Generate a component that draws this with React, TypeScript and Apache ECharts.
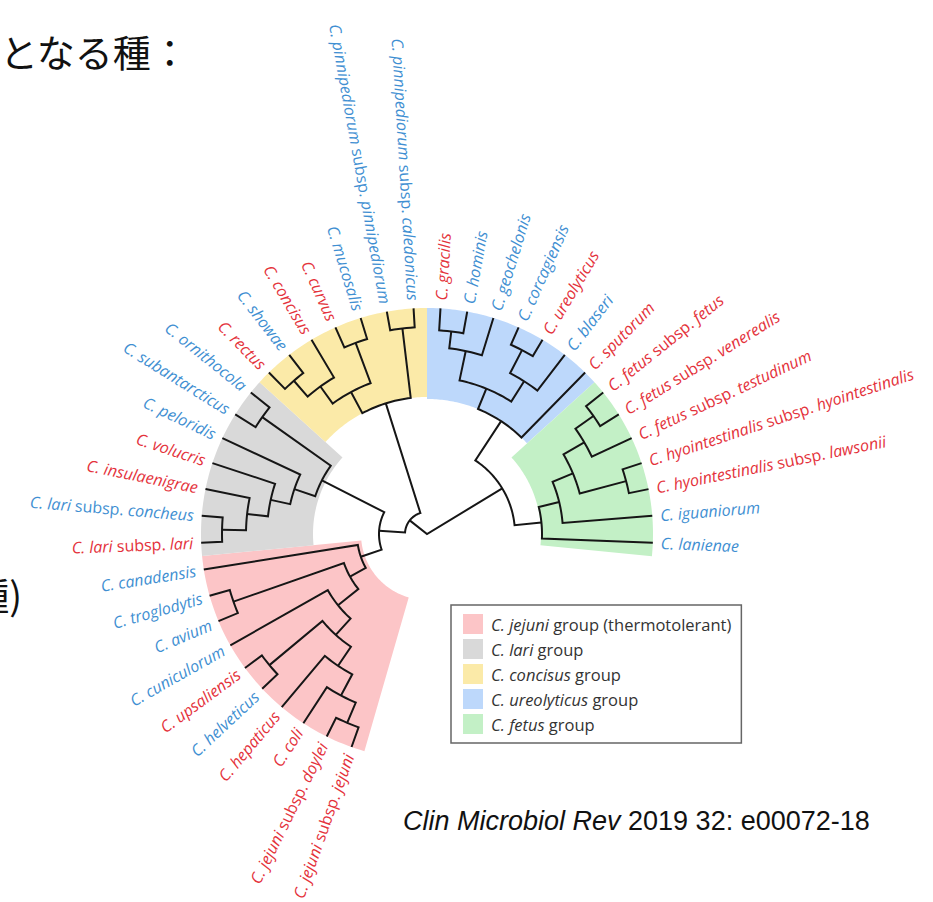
import React, { useEffect, useRef } from 'react';
import * as echarts from 'echarts';

// Leaves of the tree, in clockwise order starting from the bottom of the fan
const leafNames = [
  'C. jejuni subsp. jejuni',
  'C. jejuni subsp. doylei',
  'C. coli',
  'C. hepaticus',
  'C. helveticus',
  'C. upsaliensis',
  'C. cuniculorum',
  'C. avium',
  'C. troglodytis',
  'C. canadensis',
  'C. lari subsp. lari',
  'C. lari subsp. concheus',
  'C. insulaenigrae',
  'C. volucris',
  'C. peloridis',
  'C. subantarcticus',
  'C. ornithocola',
  'C. rectus',
  'C. showae',
  'C. concisus',
  'C. curvus',
  'C. mucosalis',
  'C. pinnipediorum subsp. pinnipediorum',
  'C. pinnipediorum subsp. caledonicus',
  'C. gracilis',
  'C. hominis',
  'C. geochelonis',
  'C. corcagiensis',
  'C. ureolyticus',
  'C. blaseri',
  'C. sputorum',
  'C. fetus subsp. fetus',
  'C. fetus subsp. venerealis',
  'C. fetus subsp. testudinum',
  'C. hyointestinalis subsp. hyointestinalis',
  'C. hyointestinalis subsp. lawsonii',
  'C. iguaniorum',
  'C. lanienae',
];

// 1 = isolated from human disease (red label), 0 = other hosts (blue label)
const leafHuman = [
  1, 1, 1, 1, 0, 1, 0, 0, 0, 0,
  1, 0, 1, 1, 0, 0, 0,
  1, 0, 1, 1, 0, 0, 0,
  1, 0, 0, 0, 1, 0, 1,
  1, 1, 1, 1, 1, 0, 0,
];

// Internal nodes: children are leaf indices or node ids; depth is distance from the root
const nodeIds = [
  'JJ', 'P6', 'P5', 'UH', 'P4', 'P3', 'TA', 'P2', 'PINK',
  'CL', 'G4', 'G3', 'G2', 'OS', 'GRAY', 'L2',
  'RS', 'Y2', 'CM', 'Y1', 'PP', 'YELLOW', 'L',
  'GH', 'BG', 'CU', 'BC', 'B', 'BLUE',
  'FV', 'G7', 'HL', 'G6', 'G5', 'GREEN', 'A', 'ROOT',
];
const nodeKids: [number | string, number | string][] = [
  [0, 1], [2, 'JJ'], [3, 'P6'], [5, 4], ['UH', 'P5'], [6, 'P4'], [8, 7], ['TA', 'P3'], [9, 'P2'],
  [11, 10], [12, 'CL'], [13, 'G4'], [14, 'G3'], [16, 15], ['OS', 'G2'], ['GRAY', 'PINK'],
  [17, 18], ['RS', 19], [20, 21], ['Y2', 'CM'], [22, 23], ['Y1', 'PP'], ['YELLOW', 'L2'],
  [24, 25], ['GH', 26], [27, 28], ['CU', 29], ['BG', 'BC'], ['B', 30],
  [31, 32], ['FV', 33], [34, 35], ['G7', 'HL'], ['G6', 36], ['G5', 37], ['BLUE', 'GREEN'], ['L', 'A'],
];
const nodeDepth = [
  205, 183, 159, 205, 136, 114, 205, 88, 70,
  205, 181, 160, 140, 202, 118, 48,
  203, 182, 204, 161, 207, 137, 22,
  204, 187, 207, 181, 157, 135,
  204, 182, 206, 158, 136, 115, 88, 0,
];
const leafDepth = 226;

// Coloured clade bands
const groupNames = [
  'C. jejuni group (thermotolerant)',
  'C. lari group',
  'C. concisus group',
  'C. ureolyticus group',
  'C. fetus group',
];
const groupFirstLeaf = [0, 10, 17, 24, 31];
const groupLastLeaf = [9, 16, 23, 30, 37];
const groupInnerDepth = [66, 114, 137, 135, 114];
const groupColors = ['#fcc5c7', '#d9d9d9', '#fbeaa8', '#bdd8fb', '#c3f0c6'];

const RED = '#e4323b';
const BLUE = '#3f8fd2';
const LINE = '#161616';
const LABEL_FONT = '"Open Sans", "Noto Sans", sans-serif';
const LABEL_SIZE = 16;
const FIRST_LEAF_ANGLE = 250.5;
const LEAF_STEP = 6.83;
const LABEL_DEPTH = 234;

// Angular position of every node = midpoint of its two children
function layoutNodes() {
  const pos: Record<string, number> = {};
  const depth: Record<string, number> = {};
  const key = (c: number | string) => (typeof c === 'number' ? 'leaf' + c : c);
  leafNames.forEach((_, i) => {
    pos['leaf' + i] = i;
    depth['leaf' + i] = leafDepth;
  });
  nodeIds.forEach((id, k) => {
    const [a, b] = nodeKids[k].map(key);
    pos[id] = (pos[a] + pos[b]) / 2;
    depth[id] = nodeDepth[k];
  });
  return nodeIds.map((id, k) => {
    const [a, b] = nodeKids[k].map(key);
    return [pos[id], depth[id], pos[a], depth[a], pos[b], depth[b]];
  });
}

function labelText(name: string, human: number) {
  const s = human ? 'r' : 'b';
  const parts = name.split(' subsp. ');
  if (parts.length === 2) {
    return `{i${s}|${parts[0]}}{n${s}| subsp. }{i${s}|${parts[1]}}`;
  }
  return `{i${s}|${name}}`;
}

const labelRich = {
  ir: { fontFamily: LABEL_FONT, fontSize: LABEL_SIZE, fontStyle: 'italic', fill: RED, color: RED },
  nr: { fontFamily: LABEL_FONT, fontSize: LABEL_SIZE, fill: RED, color: RED },
  ib: { fontFamily: LABEL_FONT, fontSize: LABEL_SIZE, fontStyle: 'italic', fill: BLUE, color: BLUE },
  nb: { fontFamily: LABEL_FONT, fontSize: LABEL_SIZE, fill: BLUE, color: BLUE },
};

function buildOption() {
  const branchData = layoutNodes();

  const bandSeries = groupNames.map((name, g) => ({
    type: 'custom',
    name,
    coordinateSystem: 'polar',
    silent: true,
    z: 1,
    itemStyle: { color: groupColors[g] },
    data: [[groupFirstLeaf[g] - 0.5, groupLastLeaf[g] + 0.5, groupInnerDepth[g], leafDepth]],
    renderItem: (params: any, api: any) => {
      const a0 = api.value(0);
      const a1 = api.value(1);
      const r0 = api.value(2);
      const r1 = api.value(3);
      const n = 60;
      const pts: number[][] = [];
      for (let k = 0; k <= n; k++) pts.push(api.coord([r1, a0 + ((a1 - a0) * k) / n]));
      for (let k = n; k >= 0; k--) pts.push(api.coord([r0, a0 + ((a1 - a0) * k) / n]));
      return {
        type: 'polygon',
        shape: { points: pts },
        style: { fill: api.visual('color'), stroke: null },
      };
    },
  }));

  const branchSeries = {
    type: 'custom',
    name: 'branches',
    coordinateSystem: 'polar',
    silent: true,
    z: 3,
    data: branchData,
    renderItem: (params: any, api: any) => {
      const d = api.value(1);
      const p1 = api.value(2);
      const d1 = api.value(3);
      const p2 = api.value(4);
      const d2 = api.value(5);
      const pts: number[][] = [];
      pts.push(api.coord([d1, p1]));
      const n = Math.max(2, Math.ceil(Math.abs(p2 - p1) * 6));
      for (let k = 0; k <= n; k++) pts.push(api.coord([d, p1 + ((p2 - p1) * k) / n]));
      pts.push(api.coord([d2, p2]));
      return {
        type: 'polyline',
        shape: { points: pts },
        style: { stroke: LINE, lineWidth: 2, fill: null, lineJoin: 'miter', lineCap: 'butt' },
      };
    },
  };

  const labelSeries = {
    type: 'custom',
    name: 'labels',
    coordinateSystem: 'polar',
    silent: true,
    z: 4,
    data: leafNames.map((name, i) => ({ name, value: [LABEL_DEPTH, i] })),
    renderItem: (params: any, api: any) => {
      const i = params.dataIndex;
      const idx = api.value(1);
      const p = api.coord([api.value(0), idx]);
      const c = api.coord([0, idx]);
      const theta = Math.atan2(c[1] - p[1], p[0] - c[0]);
      const right = Math.cos(theta) >= 0;
      return {
        type: 'text',
        x: p[0],
        y: p[1],
        rotation: right ? theta : theta - Math.PI,
        style: {
          text: labelText(leafNames[i], leafHuman[i]),
          rich: labelRich,
          align: right ? 'left' : 'right',
          verticalAlign: 'middle',
          fill: leafHuman[i] ? RED : BLUE,
          fontFamily: LABEL_FONT,
          fontSize: LABEL_SIZE,
        },
      };
    },
  };

  return {
    animation: false,
    backgroundColor: '#ffffff',
    polar: { center: [427, 534], radius: 250 },
    angleAxis: {
      type: 'value',
      min: 0,
      max: 360 / LEAF_STEP,
      startAngle: FIRST_LEAF_ANGLE,
      clockwise: true,
      show: false,
    },
    radiusAxis: { type: 'value', min: 0, max: 250, show: false },
    legend: {
      orient: 'vertical',
      left: 451,
      top: 605,
      data: groupNames,
      icon: 'rect',
      itemWidth: 20,
      itemHeight: 20,
      itemGap: 5,
      padding: [9, 10, 9, 12],
      borderColor: '#666666',
      borderWidth: 1.5,
      selectedMode: false,
      formatter: (name: string) => {
        const w = name.split(' ');
        return `{i|${w[0]} ${w[1]}} ${w.slice(2).join(' ')}`;
      },
      textStyle: {
        fontFamily: LABEL_FONT,
        fontSize: 16.5,
        color: '#333333',
        padding: [0, 0, 0, 3],
        rich: {
          i: { fontFamily: LABEL_FONT, fontSize: 16.5, fontStyle: 'italic', color: '#333333' },
        },
      },
    },
    graphic: [
      {
        type: 'text',
        left: 0,
        top: 31,
        style: { text: 'となる種：', font: '38px "Noto Sans CJK JP"', fill: '#111111' },
      },
      {
        type: 'text',
        x: 22,
        y: 593,
        style: {
          text: '種)',
          font: '38px "Noto Sans CJK JP"',
          fill: '#111111',
          align: 'right',
          verticalAlign: 'middle',
        },
      },
      {
        type: 'text',
        x: 403,
        y: 807,
        style: {
          text: '{i|Clin Microbiol Rev}{n| 2019 32: e00072-18}',
          rich: {
            i: { fontFamily: '"Liberation Sans", Arial', fontSize: 27, fontStyle: 'italic', fill: '#111111' },
            n: { fontFamily: '"Liberation Sans", Arial', fontSize: 27, fill: '#111111' },
          },
        },
      },
    ],
    series: [...bandSeries, branchSeries, labelSeries],
  };
}

export default function App() {
  const ref = useRef<HTMLDivElement>(null);
  useEffect(() => {
    const chart = echarts.init(ref.current!, null, { renderer: 'svg' });
    chart.setOption(buildOption() as any);
    return () => chart.dispose();
  }, []);
  return (
    <div
      ref={ref}
      style={{ position: 'fixed', left: 0, top: 0, width: 933, height: 902, background: '#ffffff' }}
    />
  );
}
